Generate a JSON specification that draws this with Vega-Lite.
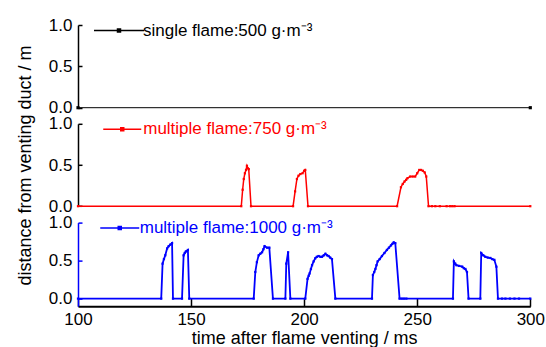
{
  "$schema": "https://vega.github.io/schema/vega-lite/v6.json",
  "background": "white",
  "padding": {"left": 16, "top": 16, "right": 2, "bottom": 2},
  "spacing": 15.8,
  "bounds": "flush",
  "config": {
    "view": {"stroke": null},
    "font": "Liberation Sans",
    "axis": {
      "labelFont": "Liberation Sans", "labelFontSize": 17, "labelColor": "black",
      "titleFont": "Liberation Sans", "titleFontSize": 18, "titleFontWeight": "normal", "titleColor": "black",
      "grid": false, "domainColor": "black", "domainWidth": 1.5, "tickColor": "black", "tickWidth": 1.5,
      "labelFlush": false
    }
  },
  "resolve": {
    "scale": {"color": "independent", "x": "independent", "y": "independent"},
    "legend": {"color": "independent"}
  },
  "vconcat": [
    {
      "width": 452.3, "height": 82.7,
      "data": {"values": [
        {"t": 100, "d": 0, "series": "single flame:500 g·m⁻³"},
        {"t": 300, "d": 0, "series": "single flame:500 g·m⁻³"}
      ]},
      "mark": {"type": "line", "strokeWidth": 1, "point": {"shape": "square", "size": 10, "filled": true}},
      "encoding": {
        "x": {"field": "t", "type": "quantitative", "scale": {"domain": [100, 300], "nice": false, "zero": false}, "axis": null},
        "y": {"field": "d", "type": "quantitative", "scale": {"domain": [0, 1], "nice": false},
          "axis": {"values": [0, 0.5, 1], "format": ".1f", "title": null, "tickSize": -4, "labelPadding": 10}},
        "color": {"field": "series", "type": "nominal", "scale": {"range": ["black"]},
          "legend": {"title": null, "orient": "none", "legendX": 32.5, "legendY": -3, "padding": 0,
            "symbolType": "M-5.0,0H5.0M-0.3,-0.3H0.3V0.3H-0.3Z", "symbolSize": 100, "symbolStrokeWidth": 1.5,
            "labelFont": "Liberation Sans", "labelFontSize": 17, "labelColor": "black", "labelOffset": 15.5, "labelLimit": 400,
            "encode": {"symbols": {"update": {"fill": {"value": "black"}, "stroke": {"value": "black"}, "opacity": {"value": 1}}}}}}
      }
    },
    {
      "width": 452.3, "height": 82.4,
      "data": {"values": [
        {"t": 100, "d": 0}, {"t": 172.2, "d": 0}, {"t": 172.8, "d": 0.2}, {"t": 173.3, "d": 0.33}, {"t": 173.8, "d": 0.4},
        {"t": 174.3, "d": 0.44}, {"t": 174.7, "d": 0.49}, {"t": 175.1, "d": 0.46}, {"t": 175.5, "d": 0.45}, {"t": 176.5, "d": 0},
        {"t": 195.1, "d": 0}, {"t": 196.0, "d": 0.18}, {"t": 196.8, "d": 0.33}, {"t": 197.5, "d": 0.37}, {"t": 198.3, "d": 0.39},
        {"t": 199.3, "d": 0.40}, {"t": 200.0, "d": 0.43}, {"t": 200.5, "d": 0.44}, {"t": 201.7, "d": 0},
        {"t": 241.1, "d": 0}, {"t": 242.8, "d": 0.23}, {"t": 243.6, "d": 0.27}, {"t": 244.4, "d": 0.30}, {"t": 245.1, "d": 0.32},
        {"t": 245.7, "d": 0.34}, {"t": 246.9, "d": 0.36}, {"t": 248.0, "d": 0.36}, {"t": 249.1, "d": 0.36}, {"t": 250.0, "d": 0.40},
        {"t": 250.9, "d": 0.44}, {"t": 251.7, "d": 0.44}, {"t": 252.5, "d": 0.43}, {"t": 253.3, "d": 0.41}, {"t": 254.0, "d": 0.36},
        {"t": 255.0, "d": 0}, {"t": 256.5, "d": 0}, {"t": 258.0, "d": 0}, {"t": 260.0, "d": 0}, {"t": 263.0, "d": 0},
        {"t": 264.5, "d": 0}, {"t": 265.5, "d": 0}, {"t": 266.5, "d": 0}, {"t": 300, "d": 0}
      ]},
      "transform": [{"calculate": "'multiple flame:750 g·m⁻³'", "as": "series"}],
      "mark": {"type": "line", "strokeWidth": 1.5, "point": {"shape": "square", "size": 5, "filled": true}},
      "encoding": {
        "x": {"field": "t", "type": "quantitative", "scale": {"domain": [100, 300], "nice": false, "zero": false}, "axis": null},
        "y": {"field": "d", "type": "quantitative", "scale": {"domain": [0, 1], "nice": false},
          "axis": {"values": [0, 0.5, 1], "format": ".1f", "title": "distance from venting duct / m", "titlePadding": 13.5, "tickSize": -4, "labelPadding": 10}},
        "color": {"field": "series", "type": "nominal", "scale": {"range": ["#ff0000"]},
          "legend": {"title": null, "orient": "none", "legendX": 35.75, "legendY": -3, "padding": 0,
            "symbolType": "M-3.8,0H3.8M-0.3,-0.3H0.3V0.3H-0.3Z", "symbolSize": 100, "symbolStrokeWidth": 1.5,
            "labelFont": "Liberation Sans", "labelFontSize": 17, "labelColor": "#ff0000", "labelOffset": 12.5, "labelLimit": 400,
            "encode": {"symbols": {"update": {"fill": {"value": "#ff0000"}, "stroke": {"value": "#ff0000"}, "opacity": {"value": 1}}}}}}
      }
    },
    {
      "width": 452.3, "height": 83.6,
      "data": {"values": [
        {"t": 100, "d": 0}, {"t": 136.8, "d": 0}, {"t": 137.4, "d": 0.46}, {"t": 138.0, "d": 0.52}, {"t": 138.6, "d": 0.57},
        {"t": 139.4, "d": 0.66}, {"t": 140.1, "d": 0.69}, {"t": 140.8, "d": 0.71}, {"t": 141.6, "d": 0.73}, {"t": 142.0, "d": 0},
        {"t": 146.0, "d": 0}, {"t": 146.7, "d": 0.57}, {"t": 147.2, "d": 0.60}, {"t": 147.7, "d": 0.62}, {"t": 148.6, "d": 0.64}, {"t": 149.2, "d": 0},
        {"t": 177.7, "d": 0}, {"t": 178.4, "d": 0.35}, {"t": 179.1, "d": 0.48}, {"t": 179.9, "d": 0.57}, {"t": 180.6, "d": 0.59},
        {"t": 181.4, "d": 0.61}, {"t": 182.0, "d": 0.65}, {"t": 182.5, "d": 0.69}, {"t": 183.6, "d": 0.67}, {"t": 184.6, "d": 0.67}, {"t": 186.2, "d": 0},
        {"t": 191.7, "d": 0}, {"t": 192.1, "d": 0.46}, {"t": 192.9, "d": 0.61}, {"t": 193.9, "d": 0},
        {"t": 200.5, "d": 0}, {"t": 201.5, "d": 0.26}, {"t": 202.0, "d": 0.3}, {"t": 202.4, "d": 0.33}, {"t": 203.0, "d": 0.39},
        {"t": 203.5, "d": 0.44}, {"t": 204.2, "d": 0.49}, {"t": 204.9, "d": 0.53}, {"t": 205.6, "d": 0.55}, {"t": 206.4, "d": 0.56},
        {"t": 207.2, "d": 0.55}, {"t": 207.9, "d": 0.55}, {"t": 208.7, "d": 0.57}, {"t": 209.4, "d": 0.59}, {"t": 210.1, "d": 0.57},
        {"t": 210.8, "d": 0.56}, {"t": 211.5, "d": 0.54}, {"t": 212.3, "d": 0.52}, {"t": 213.8, "d": 0},
        {"t": 230.0, "d": 0}, {"t": 230.4, "d": 0.31}, {"t": 231.0, "d": 0.35}, {"t": 231.5, "d": 0.39}, {"t": 232.0, "d": 0.44},
        {"t": 232.5, "d": 0.49}, {"t": 233.4, "d": 0.52}, {"t": 234.4, "d": 0.56}, {"t": 235.5, "d": 0.60}, {"t": 236.6, "d": 0.64},
        {"t": 237.5, "d": 0.67}, {"t": 238.4, "d": 0.70}, {"t": 239.0, "d": 0.72}, {"t": 239.6, "d": 0.74}, {"t": 240.3, "d": 0.73}, {"t": 242.2, "d": 0},
        {"t": 243.2, "d": 0}, {"t": 244.2, "d": 0}, {"t": 245.2, "d": 0},
        {"t": 265.8, "d": 0}, {"t": 266.2, "d": 0.49}, {"t": 266.8, "d": 0.46}, {"t": 267.3, "d": 0.44}, {"t": 268.5, "d": 0.43},
        {"t": 269.9, "d": 0.42}, {"t": 270.6, "d": 0.40}, {"t": 271.3, "d": 0.39}, {"t": 272.0, "d": 0.35}, {"t": 272.7, "d": 0},
        {"t": 277.9, "d": 0}, {"t": 278.3, "d": 0.60}, {"t": 279.2, "d": 0.57}, {"t": 280.1, "d": 0.55}, {"t": 281.2, "d": 0.54},
        {"t": 282.3, "d": 0.535}, {"t": 283.2, "d": 0.52}, {"t": 284.1, "d": 0.51}, {"t": 285.0, "d": 0.42}, {"t": 285.7, "d": 0},
        {"t": 287.5, "d": 0}, {"t": 289.0, "d": 0}, {"t": 291.0, "d": 0}, {"t": 293.0, "d": 0}, {"t": 295.0, "d": 0}, {"t": 300, "d": 0}
      ]},
      "transform": [{"calculate": "'multiple flame:1000 g·m⁻³'", "as": "series"}],
      "mark": {"type": "line", "strokeWidth": 1.8, "point": {"shape": "square", "size": 5, "filled": true}},
      "encoding": {
        "x": {"field": "t", "type": "quantitative", "scale": {"domain": [100, 300], "nice": false, "zero": false},
          "axis": {"values": [100, 150, 200, 250, 300], "format": "d", "title": "time after flame venting / ms",
            "tickSize": -8, "labelPadding": 13, "domainWidth": 2, "titlePadding": 2, "labelFlush": false}},
        "y": {"field": "d", "type": "quantitative", "scale": {"domain": [-0.1, 1], "nice": false},
          "axis": {"values": [0, 0.5, 1], "format": ".1f", "title": null, "tickSize": -4, "labelPadding": 10,
            "domainColor": "#0000ff", "tickColor": "#0000ff"}},
        "color": {"field": "series", "type": "nominal", "scale": {"range": ["#0000ff"]},
          "legend": {"title": null, "orient": "none", "legendX": 33.25, "legendY": -3, "padding": 0,
            "symbolType": "M-3.9,0H3.9M-0.3,-0.3H0.3V0.3H-0.3Z", "symbolSize": 100, "symbolStrokeWidth": 1.5,
            "labelFont": "Liberation Sans", "labelFontSize": 17, "labelColor": "#0000ff", "labelOffset": 11.5, "labelLimit": 400,
            "encode": {"symbols": {"update": {"fill": {"value": "#0000ff"}, "stroke": {"value": "#0000ff"}, "opacity": {"value": 1}}}}}}
      }
    }
  ]
}
